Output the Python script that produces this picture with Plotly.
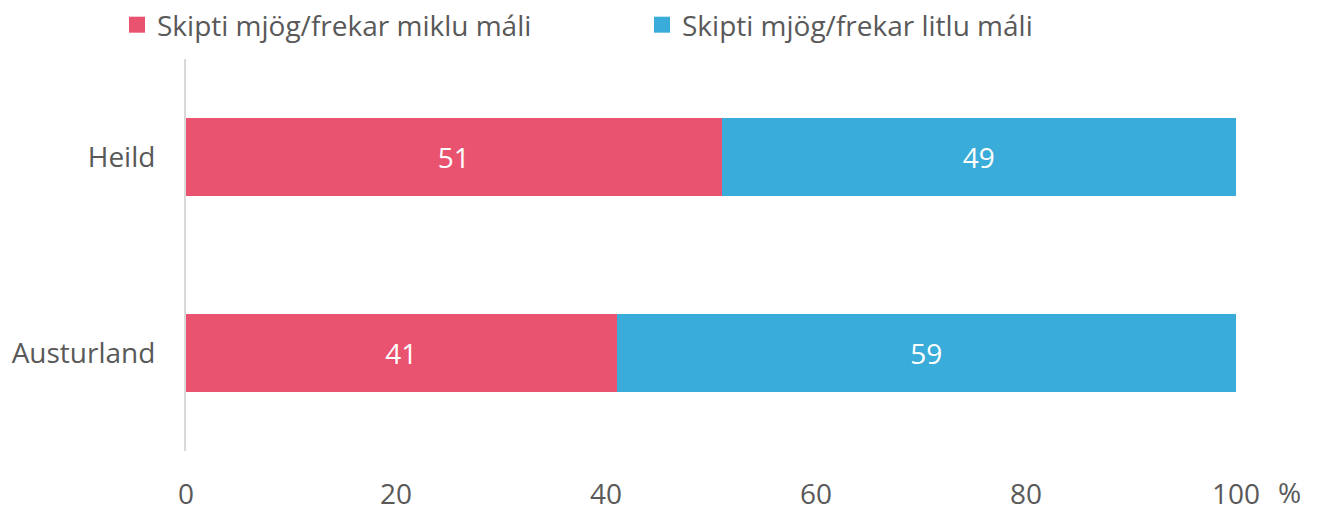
import plotly.graph_objects as go

categories = ["Austurland", "Heild"]
series_names = ["Skipti mjög/frekar miklu máli", "Skipti mjög/frekar litlu máli"]
much_values = [41, 51]
little_values = [59, 49]
x_ticks = [0, 20, 40, 60, 80, 100]

PINK = "#E9536F"
BLUE = "#3AACD9"
TEXT = "#595959"
FONT = "Open Sans"
SIZE = 28

# the page adds an 8px body margin, so the figure is drawn 8px smaller
W, H = 1314, 499

fig = go.Figure()

for name, values, color in [
    (series_names[0], much_values, PINK),
    (series_names[1], little_values, BLUE),
]:
    fig.add_trace(
        go.Bar(
            y=categories,
            x=values,
            orientation="h",
            name=name,
            marker={"color": color, "line": {"width": 0}},
            text=[str(v) for v in values],
            textposition="inside",
            insidetextanchor="middle",
            textfont={"color": "white", "size": SIZE, "family": FONT},
            showlegend=False,
            hoverinfo="skip",
        )
    )
    # legend-only proxy so the key is a larger square
    fig.add_trace(
        go.Scatter(
            x=[None],
            y=[None],
            mode="markers",
            name=name,
            marker={"symbol": "square", "size": 17, "color": color},
        )
    )

fig.add_annotation(
    x=1.0514,
    y=0,
    xref="paper",
    yref="paper",
    xanchor="center",
    yanchor="middle",
    yshift=-41,
    text="%",
    showarrow=False,
    font={"size": SIZE, "color": TEXT, "family": FONT},
)

fig.update_layout(
    width=W,
    height=H,
    margin={"l": 178, "r": 86, "t": 51, "b": 56, "autoexpand": False},
    plot_bgcolor="white",
    paper_bgcolor="white",
    barmode="stack",
    bargap=0.6,
    font={"family": FONT, "size": SIZE, "color": TEXT},
    legend={
        "orientation": "h",
        "traceorder": "normal",
        "x": 109 / W,
        "xanchor": "left",
        "xref": "container",
        "y": 1 - 17 / H,
        "yanchor": "middle",
        "yref": "container",
        "entrywidth": 480,
        "entrywidthmode": "pixels",
        "itemwidth": 30,
        "font": {"size": SIZE, "color": TEXT, "family": FONT},
    },
    xaxis={
        "range": [0, 100],
        "tickvals": x_ticks,
        "showgrid": False,
        "zeroline": False,
        "showline": False,
        "ticks": "outside",
        "ticklen": 0,
        "ticklabelstandoff": 18,
        "tickfont": {"size": SIZE, "color": TEXT},
        "fixedrange": True,
    },
    yaxis={
        "showgrid": False,
        "zeroline": False,
        "showline": True,
        "linecolor": "#D9D9D9",
        "linewidth": 2,
        "ticks": "",
        "ticklabelstandoff": 23,
        "tickfont": {"size": SIZE, "color": TEXT},
        "fixedrange": True,
    },
)

fig.write_html("out.html")
